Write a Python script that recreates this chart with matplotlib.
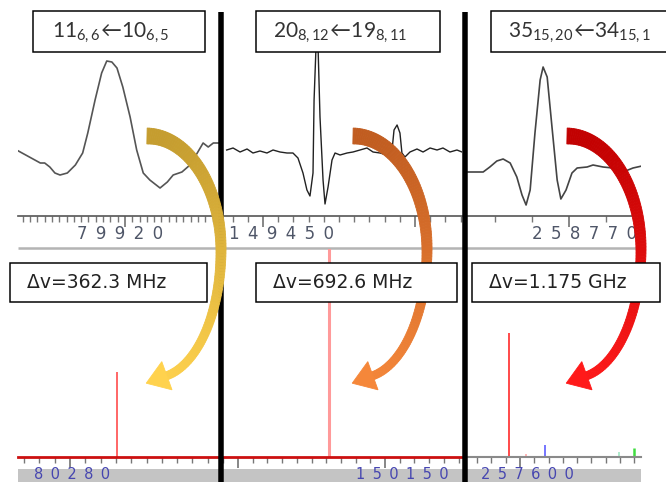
import numpy as np
import matplotlib
matplotlib.use('Agg')
import matplotlib.pyplot as plt
from matplotlib.patches import Rectangle, Polygon
from matplotlib.ticker import MultipleLocator, FixedLocator
from matplotlib.colors import to_rgb

plt.rcParams['mathtext.fontset'] = 'custom'
plt.rcParams['mathtext.rm'] = 'Lato'
plt.rcParams['mathtext.it'] = 'Lato:italic'
plt.rcParams['mathtext.bf'] = 'Lato:bold'

W, H, DPI = 666, 482, 100


def pt(px):
    return px * 72 / DPI


# === observed spectra (top row): offsets from labelled tick in MHz, arb. intensity ===
obs_centers = [79920, 149450, 258770]
obs_step = 0.1

p1_off = [-1.46, -1.26, -1.16, -1.10, -1.03, -0.96, -0.89, -0.79, -0.68, -0.58,
          -0.51, -0.41, -0.32, -0.25, -0.18, -0.11, -0.03, 0.07, 0.16, 0.25,
          0.34, 0.48, 0.58, 0.66, 0.78, 0.89, 0.99, 1.07, 1.14, 1.21, 1.29]
p1_int = [0.65, 0.57, 0.53, 0.53, 0.49, 0.43, 0.41, 0.43, 0.51, 0.63,
          0.83, 1.16, 1.43, 1.55, 1.54, 1.48, 1.29, 0.99, 0.66, 0.43,
          0.36, 0.28, 0.34, 0.41, 0.44, 0.51, 0.63, 0.73, 0.69, 0.73, 0.73]

p2_off = [-0.239, -0.197, -0.151, -0.105, -0.066, -0.020, 0.026, 0.066, 0.112, 0.158,
          0.197, 0.230, 0.263, 0.289, 0.309, 0.329, 0.336, 0.349, 0.362, 0.375,
          0.395, 0.408, 0.428, 0.454, 0.474, 0.507, 0.553, 0.592, 0.638, 0.684,
          0.724, 0.770, 0.816, 0.849, 0.862, 0.882, 0.901, 0.914, 0.934, 0.967,
          1.013, 1.053, 1.099, 1.145, 1.184, 1.230, 1.276, 1.309]
p2_int = [0.66, 0.68, 0.64, 0.67, 0.63, 0.65, 0.63, 0.66, 0.64, 0.63,
          0.63, 0.58, 0.43, 0.26, 0.20, 0.43, 1.16, 1.70, 1.70, 0.99,
          0.36, 0.12, 0.29, 0.56, 0.63, 0.61, 0.63, 0.64, 0.66, 0.68,
          0.64, 0.63, 0.61, 0.66, 0.86, 0.91, 0.83, 0.63, 0.59, 0.64,
          0.67, 0.64, 0.68, 0.66, 0.68, 0.64, 0.66, 0.64]

p3_off = [-0.273, -0.232, -0.214, -0.195, -0.178, -0.159, -0.141, -0.127, -0.116, -0.105,
          -0.092, -0.078, -0.070, -0.059, -0.046, -0.032, -0.022, -0.008, 0.008, 0.022,
          0.049, 0.065, 0.092, 0.119, 0.146, 0.173, 0.197]
p3_int = [0.44, 0.44, 0.49, 0.55, 0.57, 0.53, 0.39, 0.21, 0.11, 0.26,
          0.83, 1.36, 1.49, 1.39, 0.89, 0.36, 0.17, 0.26, 0.43, 0.48,
          0.49, 0.51, 0.49, 0.48, 0.44, 0.48, 0.50]

obs_off = [p1_off, p2_off, p3_off]
obs_int = [p1_int, p2_int, p3_int]
obs_majors = [[79920], [149450, 149451], [258770]]

# === predicted stick spectra (bottom row) ===
pred_centers = [80280, 150150, 257600]
pred_step = 0.5
pred_off = [[1.54], [-1.90], [-0.38, 0.21, 0.88, 3.45, 4.00]]
pred_h = [[0.85], [2.50], [1.24, 0.03, 0.12, 0.05, 0.09]]
pred_majors = [[80280], [150145, 150150], [257600]]

transitions = [r'$\mathregular{11_{6,6}\!\leftarrow\!10_{6,5}}$',
               r'$\mathregular{20_{8,12}\!\leftarrow\!19_{8,11}}$',
               r'$\mathregular{35_{15,20}\!\leftarrow\!34_{15,1}}$']
shifts = ['Δv=362.3 MHz', 'Δv=692.6 MHz', 'Δv=1.175 GHz']

# === layout (pixels) and styles ===
panel_x = [(18, 220), (222, 462), (467, 641)]
top_y = (52, 216)
bot_y = (249, 457)
top_tick_px = [125, 263, 569]
top_px_per_step = [7.3, 15.2, 37.0]
bot_tick_px = [70, 385, 520]
bot_px_per_step = [15.3, 14.7, 14.3]
top_lab_dx = [-5, 19, 15]
bot_lab_dx = [2, 17, 7]
trace_cols = ['#555555', '#222222', '#444444']
trace_lw = [1.2, 1.0, 1.2]
stick_cols = [['#ff5a5a'], ['#ff9a9a'], ['#ff3c3c', '#ffb0b0', '#6a6aff', '#a8e8c8', '#40dd40']]
stick_lw = [[1.3], [2.2], [1.3, 1.3, 1.3, 1.3, 1.8]]
base_cols = ['#cc1010', '#cc1010', '#8a8a8a']

top_boxes = [(33, 11, 205, 52), (256, 11, 440, 52), (491, 11, 668, 52)]
top_text_x = [52, 273, 508]
bot_boxes = [(10, 263, 207, 302), (256, 263, 457, 302), (472, 263, 660, 302)]
bot_text_x = [27, 273, 489]
arrow_x0 = [147, 353, 567]
arrow_cols = [('#c39b2e', '#ffd24d'), ('#bf5b1f', '#f5873a'), ('#c00000', '#ff1a1a')]

fig = plt.figure(figsize=(W / DPI, H / DPI), dpi=DPI)


def px_axes(x0, y0, x1, y1, z):
    return fig.add_axes([x0 / W, 1 - y1 / H, (x1 - x0) / W, (y1 - y0) / H], zorder=z)


def spaced(v):
    return '\u2002'.join(str(v))


def style_axis(ax, base_col, base_lw, step, majors):
    for s in ['top', 'left', 'right']:
        ax.spines[s].set_visible(False)
    ax.spines['bottom'].set_color(base_col)
    ax.spines['bottom'].set_linewidth(base_lw)
    ax.yaxis.set_visible(False)
    ax.xaxis.set_minor_locator(MultipleLocator(step))
    ax.xaxis.set_major_locator(FixedLocator(majors))
    ax.tick_params(which='major', length=8, width=1.1, color='#666666', labelbottom=False)
    ax.tick_params(which='minor', length=4, width=1.0, color='#777777')
    ax.patch.set_alpha(0)


# background: gray separators
bg = fig.add_axes([0, 0, 1, 1], zorder=-1)
bg.set_xlim(0, W)
bg.set_ylim(H, 0)
bg.axis('off')
bg.hlines(248, 18, 641, color='#b4b4b4', lw=pt(2.5))
bg.add_patch(Rectangle((18, 469), 623, 14, color='#c4c4c4', lw=0))

for i in range(3):
    x0, x1 = panel_x[i]

    # observed trace
    ax = px_axes(x0, top_y[0], x1, top_y[1], 1)
    c, st, tp, pps = obs_centers[i], obs_step, top_tick_px[i], top_px_per_step[i]
    ax.plot(c + np.array(obs_off[i]), obs_int[i], color=trace_cols[i], lw=trace_lw[i])
    ax.set_xlim(c + (x0 - tp) / pps * st, c + (x1 - tp) / pps * st)
    ax.set_ylim(0, (top_y[1] - top_y[0]) / 100)
    style_axis(ax, '#555555', 1.2, st, obs_majors[i])
    ax.annotate(spaced(c), xy=(c, 0), xycoords=ax.get_xaxis_transform(),
                xytext=(top_lab_dx[i], -18), textcoords='offset pixels',
                ha='center', va='center', fontsize=12, color='#4f5668',
                annotation_clip=False)

    # predicted sticks
    ax = px_axes(x0, bot_y[0], x1, bot_y[1], 1)
    c, st, tp, pps = pred_centers[i], pred_step, bot_tick_px[i], bot_px_per_step[i]
    ax.vlines(c + np.array(pred_off[i]), 0, pred_h[i], colors=stick_cols[i], lw=stick_lw[i])
    ax.set_xlim(c + (x0 - tp) / pps * st, c + (x1 - tp) / pps * st)
    ax.set_ylim(0, (bot_y[1] - bot_y[0]) / 100)
    style_axis(ax, base_cols[i], 2.0 if i < 2 else 1.5, st, pred_majors[i])
    ax.annotate(spaced(c), xy=(c, 0), xycoords=ax.get_xaxis_transform(),
                xytext=(bot_lab_dx[i], -25), textcoords='offset pixels',
                ha='center', va='bottom', fontsize=10.5, color='#4646b0',
                annotation_clip=False)

# overlay: separators, arrows, boxes
ov = fig.add_axes([0, 0, 1, 1], zorder=5)
ov.set_xlim(0, W)
ov.set_ylim(H, 0)
ov.axis('off')
ov.patch.set_alpha(0)
ov.vlines([221, 465], 12, H, color='black', lw=pt(5.5), zorder=2)


def curved_arrow(x0, c_top, c_bot):
    cy = 250
    t1 = np.linspace(np.pi / 2, 0, 60)
    t2 = np.linspace(0, np.radians(-80), 60)[1:]
    xs = np.r_[x0 + 74 * np.cos(t1), x0 + 7.4 + 66.6 * np.cos(t2)]
    ys = np.r_[cy - 114 * np.sin(t1), cy - 128 * np.sin(t2)]
    n = len(xs)
    dx, dy = np.gradient(xs), np.gradient(ys)
    ln = np.hypot(dx, dy)
    tx, ty = dx / ln, dy / ln
    nx, ny = -ty, tx
    f = np.linspace(0, 1, n)
    w = 8 + 8 * (1 - f) ** 2
    lx, ly = xs + nx * w / 2, ys + ny * w / 2
    rx, ry = xs - nx * w / 2, ys - ny * w / 2
    ct, cb = np.array(to_rgb(c_top)), np.array(to_rgb(c_bot))
    for k in range(n - 1):
        fy = np.clip((ys[k] - 128) / (390 - 128), 0, 1)
        col = ct * (1 - fy) + cb * fy
        quad = [(lx[k], ly[k]), (lx[k + 1], ly[k + 1]), (rx[k + 1], ry[k + 1]), (rx[k], ry[k])]
        ov.add_patch(Polygon(quad, closed=True, fc=col, ec=col, lw=0.6, zorder=3))
    ex, ey = xs[-1] - tx[-1], ys[-1] - ty[-1]
    tip = (ex + tx[-1] * 22, ey + ty[-1] * 22)
    b1 = (ex + nx[-1] * 15, ey + ny[-1] * 15)
    b2 = (ex - nx[-1] * 15, ey - ny[-1] * 15)
    ov.add_patch(Polygon([tip, b1, b2], closed=True, fc=cb, ec=cb, lw=0.6, zorder=3))


for i in range(3):
    curved_arrow(arrow_x0[i], *arrow_cols[i])

for i in range(3):
    bx0, by0, bx1, by1 = top_boxes[i]
    ov.add_patch(Rectangle((bx0, by0), bx1 - bx0, by1 - by0, fc='white', ec='black',
                           lw=pt(1.5), zorder=4))
    ov.text(top_text_x[i], (by0 + by1) / 2 + 1, transitions[i], ha='left', va='center',
            fontsize=15, family='Lato', color='#333333', zorder=5)
    bx0, by0, bx1, by1 = bot_boxes[i]
    ov.add_patch(Rectangle((bx0, by0), bx1 - bx0, by1 - by0, fc='white', ec='black',
                           lw=pt(1.5), zorder=4))
    ov.text(bot_text_x[i], (by0 + by1) / 2, shifts[i], ha='left', va='center',
            fontsize=13.5, family='DejaVu Sans', color='#222222', zorder=5)

fig.savefig('out.png', dpi=DPI)
